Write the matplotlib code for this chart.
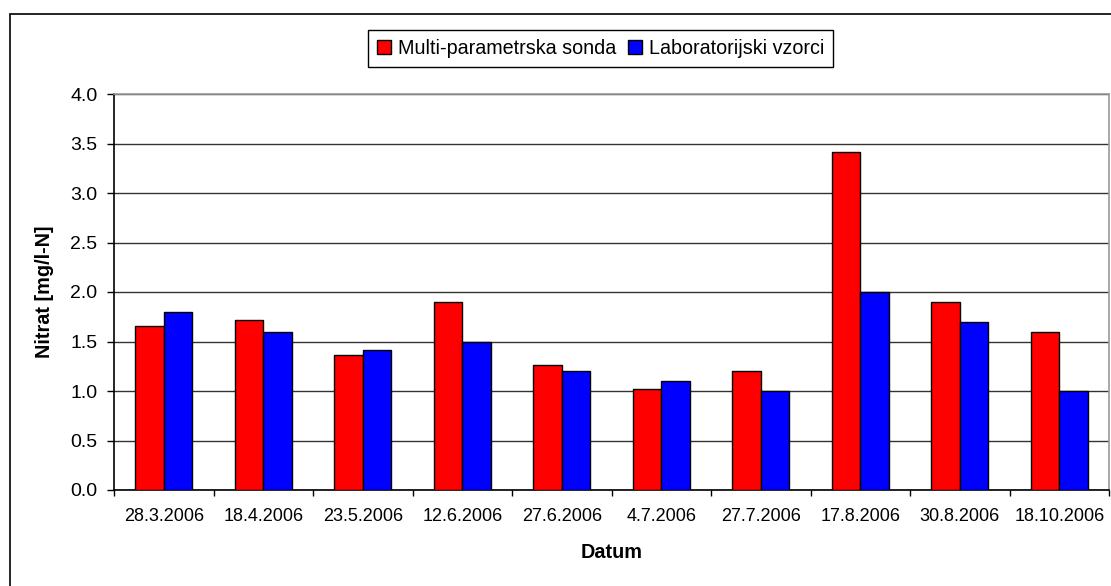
import matplotlib

matplotlib.use("Agg")
import matplotlib.pyplot as plt
import numpy as np
from matplotlib.patches import Rectangle

# --- data ---------------------------------------------------------------------
dates = ["28.3.2006", "18.4.2006", "23.5.2006", "12.6.2006", "27.6.2006",
         "4.7.2006", "27.7.2006", "17.8.2006", "30.8.2006", "18.10.2006"]
sonda = [1.66, 1.72, 1.36, 1.90, 1.26, 1.02, 1.20, 3.41, 1.90, 1.60]
lab = [1.80, 1.60, 1.41, 1.50, 1.20, 1.10, 1.00, 2.00, 1.70, 1.00]
series_names = ["Multi-parametrska sonda", "Laboratorijski vzorci"]
y_ticks = [0.0, 0.5, 1.0, 1.5, 2.0, 2.5, 3.0, 3.5, 4.0]

plt.rcParams["font.family"] = ["Liberation Sans", "DejaVu Sans"]
plt.rcParams["font.size"] = 13

W, H = 1111, 586
fig = plt.figure(figsize=(W / 100, H / 100), dpi=100)

# outer chart frame (cropped on the right and bottom in the original)
fig.patches.append(Rectangle((9.5 / W, -0.05), 1.2, 1 - 14 / H + 0.05,
                             transform=fig.transFigure, fill=False,
                             edgecolor="black", linewidth=1.2))

# plot area in pixel coordinates
left, right, top, bottom = 114, 1109, 94, 490
ax = fig.add_axes([left / W, 1 - bottom / H, (right - left) / W, (bottom - top) / H])

x = np.arange(len(dates))
bw = 1 / 3.5  # Excel gap width 150%
ax.bar(x - bw / 2, sonda, bw, color="#ff0000", edgecolor="black", linewidth=1.0,
       label=series_names[0], zorder=3)
ax.bar(x + bw / 2, lab, bw, color="#0000ff", edgecolor="black", linewidth=1.0,
       label=series_names[1], zorder=3)

ax.set_xlim(-0.5, len(dates) - 0.5)
ax.set_ylim(0, 4.0)
ax.set_yticks(y_ticks)
ax.set_yticklabels([f"{v:.1f}" for v in y_ticks], fontsize=14)
ax.yaxis.grid(True, color="#333333", linewidth=1.0, zorder=0)
ax.set_axisbelow(True)

ax.set_xticks(x)
ax.set_xticklabels(dates)
ax.set_xticks(np.arange(len(dates) + 1) - 0.5, minor=True)
ax.tick_params(axis="x", which="major", length=0, pad=13)
ax.tick_params(axis="x", which="minor", length=4, width=1.0, color="black")
ax.tick_params(axis="y", length=5, width=1.0, color="black", pad=7, direction="out")

for side in ("top", "right"):
    ax.spines[side].set_color("#999999")
    ax.spines[side].set_linewidth(1.2)
for side in ("left", "bottom"):
    ax.spines[side].set_color("black")
    ax.spines[side].set_linewidth(1.2)

fig.text(45 / W, 1 - 292 / H, "Nitrat [mg/l-N]", rotation=90, fontweight="bold",
         fontsize=14.3, ha="center", va="center")
fig.text(611.5 / W, 1 - 553 / H, "Datum", fontweight="bold", fontsize=14.3,
         ha="center", va="center")

leg = fig.legend(loc="center", bbox_to_anchor=(600.5 / W, 1 - 48.5 / H), ncol=2,
                 frameon=True, fancybox=False, edgecolor="black", framealpha=1,
                 fontsize=14.2, handlelength=0.7, handleheight=0.7, handletextpad=0.35,
                 columnspacing=0.6, borderpad=0.45, borderaxespad=0)
leg.get_frame().set_linewidth(1.0)

fig.savefig("out.png", dpi=100)
